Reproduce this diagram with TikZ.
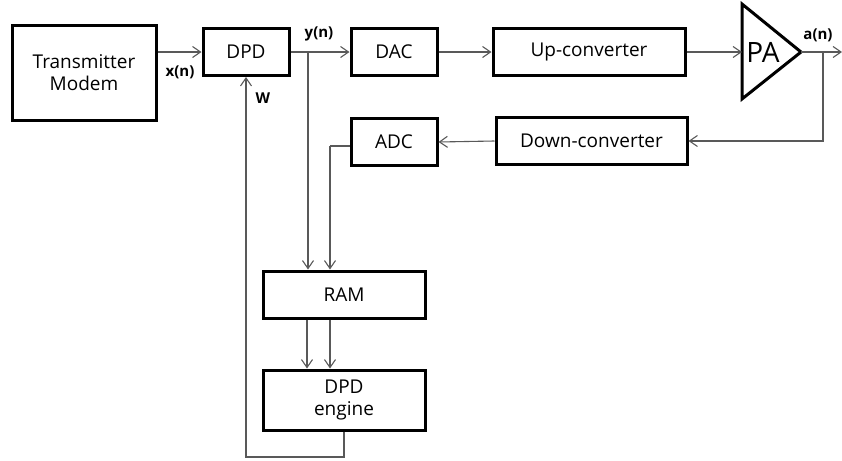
\documentclass[tikz,border=0pt]{standalone}
\usepackage{fontspec}
\setmainfont{Open Sans}
\usetikzlibrary{arrows.meta,calc}

\tikzset{
  blk/.style={draw=black,line width=1.5pt,minimum width=#1,inner sep=0pt,align=center,font=\fontsize{9.5}{11}\selectfont},
  sig/.style={draw=black!65,line width=.55pt},
  arr/.style={sig,-{Straight Barb[length=4pt,width=5.5pt]}},
  lbl/.style={font=\fontsize{7.5}{9}\selectfont\bfseries,inner sep=0pt}
}

\begin{document}
\begin{tikzpicture}[x=.5pt,y=-.5pt]

      \useasboundingbox (0,0) rectangle (842,461);

      % blocks
      \node[blk=72pt,minimum height=47.5pt] (tm)   at ( 84, 72.5) {Transmitter\\Modem};
      \node[blk=43pt,minimum height=23.5pt] (dpd)  at (246, 52)   {DPD};
      \node[blk=43pt,minimum height=23.5pt] (dac)  at (394, 52)   {DAC};
      \node[blk=96pt,minimum height=23.5pt] (up)   at (589, 52)   {Up-converter};
      \node[blk=43pt,minimum height=23.5pt] (adc)  at (394,142)   {ADC};
      \node[blk=95.5pt,minimum height=23.5pt] (down) at (591.5,141) {Down-converter};
      \node[blk=81pt,minimum height=23.5pt] (ram)  at (344,294.5) {RAM};
      \node[blk=81pt,minimum height=30pt]   (eng)  at (344,400)   {DPD\\engine};

      % power amplifier
      \draw[line width=1.5pt,line join=miter] (742,4) -- (801,52) -- (742,99) -- cycle;
      \node[font=\fontsize{14}{16}\selectfont] (pa) at (763,52) {PA};
      \coordinate (pain)  at (742,52);
      \coordinate (paout) at (801,52);

      % branch points
      \coordinate (yb)  at (308,52);
      \coordinate (ab)  at (823,52);
      \coordinate (out) at (842,52);
      \coordinate (fb)  at (330,146);

      % forward path
      \draw[arr] (tm.east |- dpd.west) -- (dpd.west);
      \draw[arr] (dpd.east) -- (dac.west);
      \draw[arr] (dac.east) -- (up.west);
      \draw[arr] (up.east) -- (pain);
      \draw[arr] (paout) -- (out);

      % feedback path
      \draw[arr] (ab) |- (down.east);
      \draw[arr] (down.west) -- (adc.east);
      \draw[sig] (adc.west |- fb) -- (fb);
      \draw[arr] (fb) -- (fb |- ram.north);
      \draw[arr] (yb) -- (yb |- ram.north);

      % RAM to engine
      \draw[arr] ([xshift=-18.5pt]ram.south) -- ([xshift=-18.5pt]eng.north);
      \draw[arr] ([xshift=-7pt]ram.south) -- ([xshift=-7pt]eng.north);

      % coefficients back to DPD
      \draw[arr] (eng.south) -- (344,457) -| (dpd.south);

      % labels
      \node[lbl] (xl) at (180,72) {x(n)};
      \node[lbl] (yl) at (319,34) {y(n)};
      \node[lbl] (al) at (818,35) {a(n)};
      \node[lbl] (wl) at (263,98) {W};

    \end{tikzpicture}
\end{document}
